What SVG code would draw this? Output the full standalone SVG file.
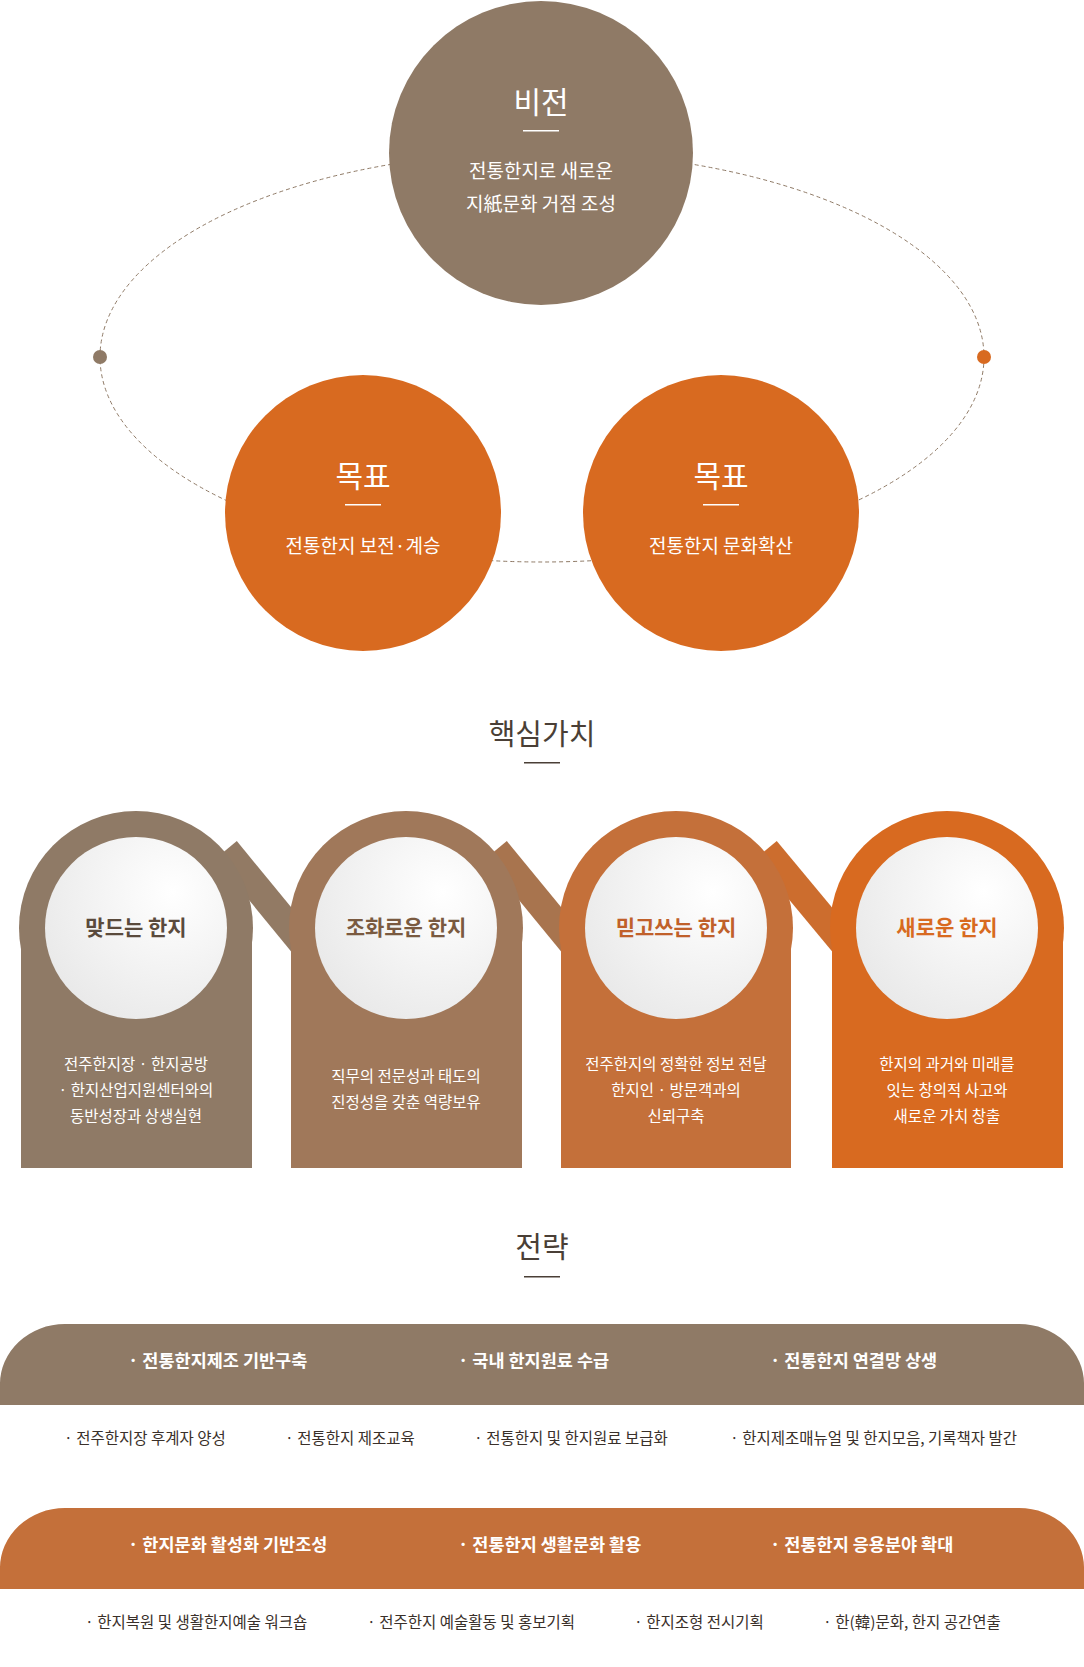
<svg xmlns="http://www.w3.org/2000/svg" width="1084" height="1667" viewBox="0 0 1084 1667">
<defs>
<style>
text{font-family:"Noto Sans CJK KR","Noto Sans",sans-serif;text-anchor:middle}
.w{fill:#fff}
.h{font-size:30px;fill:#fff}
.s{font-size:19px;fill:#fff}
.sec{font-size:29px;fill:#4a3f36}
.ct{font-size:21px;font-weight:bold}
.cd{font-size:15.5px;fill:#fff}
.bt{font-size:17.5px;font-weight:bold;fill:#fff;text-anchor:start}
.it{font-size:15.5px;fill:#3a302a;text-anchor:start}
</style>
<radialGradient id="wg" cx="0.7" cy="0.3" r="0.9"><stop offset="0" stop-color="#ffffff"/><stop offset="1" stop-color="#e6e6e6"/></radialGradient>
</defs>
<g id="connectors">
<ellipse cx="542" cy="357" rx="442" ry="205" fill="none" stroke="#8f7a66" stroke-width="1" stroke-dasharray="4,3"/>
<circle cx="100" cy="357" r="7" fill="#8f7a66"/>
<circle cx="984" cy="357" r="7" fill="#d86a20"/>
</g>
<g id="vision"><circle cx="541" cy="153" r="152" fill="#8f7a66"/>
<text class="h" x="541" y="113">비전</text><rect x="523" y="130" width="36" height="1.5" class="w"/>
<text class="s" x="541" y="178">전통한지로 새로운</text><text class="s" x="541" y="211">지紙문화 거점 조성</text></g>
<g id="goal1"><circle cx="363" cy="513" r="138" fill="#d86a20"/>
<text class="h" x="363" y="487">목표</text><rect x="345" y="504" width="36" height="1.5" class="w"/>
<text class="s" x="363" y="553">전통한지 보전·계승</text></g>
<g id="goal2"><circle cx="721" cy="513" r="138" fill="#d86a20"/>
<text class="h" x="721" y="487">목표</text><rect x="703" y="504" width="36" height="1.5" class="w"/>
<text class="s" x="721" y="553">전통한지 문화확산</text></g>
<g id="title-core"><text class="sec" x="542" y="745">핵심가치</text><rect x="524" y="762" width="36" height="1.5" fill="#4a3f36"/></g>
<g id="core-links">
<line x1="226" y1="850" x2="304" y2="945" stroke="#927a64" stroke-width="28"/>
<line x1="496" y1="850" x2="574" y2="945" stroke="#a8744e" stroke-width="28"/>
<line x1="766" y1="850" x2="845" y2="945" stroke="#cc6d2e" stroke-width="28"/>
</g>
<g id="core1"><circle cx="136" cy="928" r="117" fill="#8f7a66"/><rect x="21" y="928" width="231" height="240" fill="#8f7a66"/>
<circle cx="136" cy="928" r="91" fill="url(#wg)"/><text class="ct" x="136" y="935" fill="#5a4a3c">맞드는 한지</text>
<text class="cd" x="136" y="1070">전주한지장 · 한지공방</text><text class="cd" x="136" y="1096">· 한지산업지원센터와의</text><text class="cd" x="136" y="1122">동반성장과 상생실현</text></g>
<g id="core2"><circle cx="406" cy="928" r="117" fill="#a0785a"/><rect x="291" y="928" width="231" height="240" fill="#a0785a"/>
<circle cx="406" cy="928" r="91" fill="url(#wg)"/><text class="ct" x="406" y="935" fill="#7a5a40">조화로운 한지</text>
<text class="cd" x="406" y="1082">직무의 전문성과 태도의</text><text class="cd" x="406" y="1108">진정성을 갖춘 역량보유</text></g>
<g id="core3"><circle cx="676" cy="928" r="117" fill="#c4703a"/><rect x="561" y="928" width="230" height="240" fill="#c4703a"/>
<circle cx="676" cy="928" r="91" fill="url(#wg)"/><text class="ct" x="676" y="935" fill="#c0602a">믿고쓰는 한지</text>
<text class="cd" x="676" y="1070">전주한지의 정확한 정보 전달</text><text class="cd" x="676" y="1096">한지인 · 방문객과의</text><text class="cd" x="676" y="1122">신뢰구축</text></g>
<g id="core4"><circle cx="947" cy="928" r="117" fill="#d86a20"/><rect x="832" y="928" width="231" height="240" fill="#d86a20"/>
<circle cx="947" cy="928" r="91" fill="url(#wg)"/><text class="ct" x="947" y="935" fill="#d86a20">새로운 한지</text>
<text class="cd" x="947" y="1070">한지의 과거와 미래를</text><text class="cd" x="947" y="1096">잇는 창의적 사고와</text><text class="cd" x="947" y="1122">새로운 가치 창출</text></g>
<g id="title-strategy"><text class="sec" x="542" y="1258">전략</text><rect x="524" y="1276" width="36" height="1.5" fill="#4a3f36"/></g>
<g id="strategy1"><path d="M0 1405 V1385 A65 60 0 0 1 65 1324 H1019 A65 60 0 0 1 1084 1385 V1405 Z" fill="#8f7a66"/>
<text class="bt" x="128" y="1367">· 전통한지제조 기반구축</text><text class="bt" x="458" y="1367">· 국내 한지원료 수급</text><text class="bt" x="770" y="1367">· 전통한지 연결망 상생</text>
<text class="it" x="64" y="1444">· 전주한지장 후계자 양성</text><text class="it" x="285" y="1444">· 전통한지 제조교육</text><text class="it" x="474" y="1444">· 전통한지 및 한지원료 보급화</text><text class="it" x="730" y="1444">· 한지제조매뉴얼 및 한지모음, 기록책자 발간</text></g>
<g id="strategy2"><path d="M0 1589 V1569 A65 60 0 0 1 65 1508 H1019 A65 60 0 0 1 1084 1569 V1589 Z" fill="#c4703a"/>
<text class="bt" x="128" y="1551">· 한지문화 활성화 기반조성</text><text class="bt" x="458" y="1551">· 전통한지 생활문화 활용</text><text class="bt" x="770" y="1551">· 전통한지 응용분야 확대</text>
<text class="it" x="85" y="1628">· 한지복원 및 생활한지예술 워크숍</text><text class="it" x="367" y="1628">· 전주한지 예술활동 및 홍보기획</text><text class="it" x="634" y="1628">· 한지조형 전시기획</text><text class="it" x="823" y="1628">· 한(韓)문화, 한지 공간연출</text></g>
</svg>
